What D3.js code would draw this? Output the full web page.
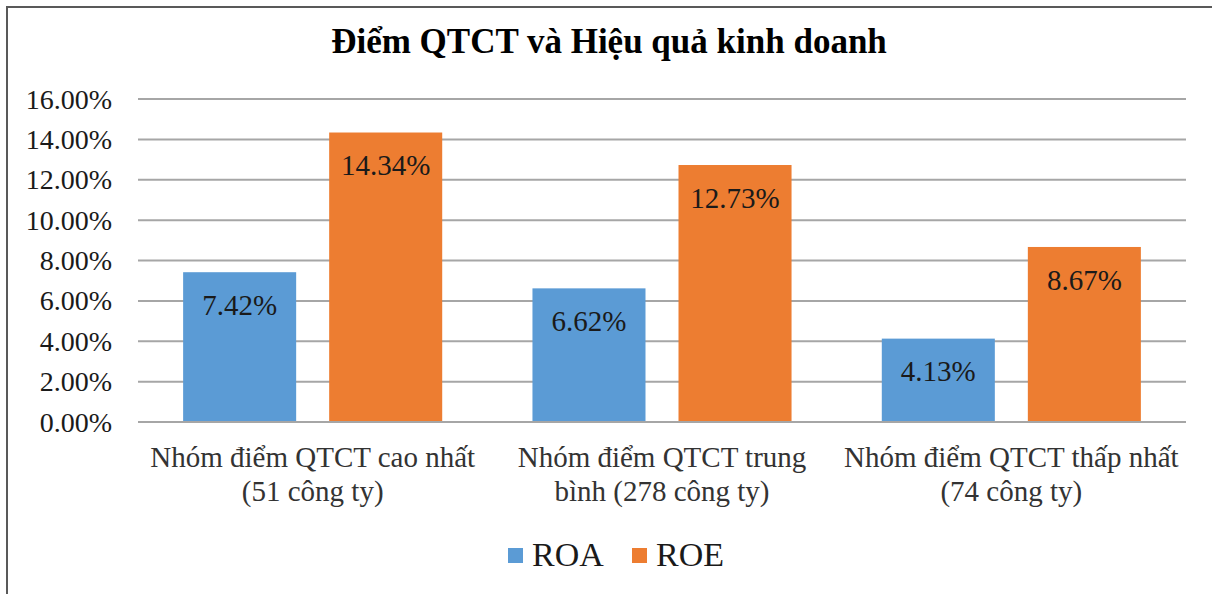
<!DOCTYPE html>
<html>
<head>
<meta charset="utf-8">
<script src="https://cdn.jsdelivr.net/npm/d3@7"></script>
<style>
  body { margin: 0; background: #fff; }
</style>
</head>
<body>
<div id="chart"></div>
<script>
// data
let categories = [
  ["Nhóm điểm QTCT cao nhất", "(51 công ty)"],
  ["Nhóm điểm QTCT trung", "bình (278 công ty)"],
  ["Nhóm điểm QTCT thấp nhất", "(74 công ty)"]
];
let seriesNames = ["ROA", "ROE"];
let roa = [7.42, 6.62, 4.13];
let roe = [14.34, 12.73, 8.67];
let yTicks = [0, 2, 4, 6, 8, 10, 12, 14, 16];
let colors = ["#5B9BD5", "#ED7D31"];

const FONT = "'Liberation Serif', 'Times New Roman', serif";

function getConfig() {
  let width = 1212;
  let height = 594;
  let margin = { top: 99, bottom: 172, left: 138, right: 26 };
  let bodyHeight = height - margin.top - margin.bottom;
  let bodyWidth = width - margin.left - margin.right;
  let container = d3.select("#chart").append("svg")
    .attr("width", width)
    .attr("height", height)
    .attr("font-family", FONT);
  return { width, height, margin, bodyHeight, bodyWidth, container };
}

function drawChart() {
  let { width, height, margin, bodyHeight, bodyWidth, container } = getConfig();

  // outer frame (only top and left edges show in the picture)
  container.append("rect")
    .attr("x", 7).attr("y", 7)
    .attr("width", width + 10).attr("height", height + 10)
    .attr("fill", "none")
    .attr("stroke", "#595959")
    .attr("stroke-width", 2);

  let table = categories.map((c, i) => ({ cat: i, values: [roa[i], roe[i]] }));

  let x0 = d3.scaleBand()
    .domain(d3.range(categories.length))
    .range([0, bodyWidth]);
  let x1 = d3.scaleBand()
    .domain(d3.range(seriesNames.length))
    .range([0, x0.bandwidth()])
    .paddingInner(0.226)
    .paddingOuter(0.309);
  let y = d3.scaleLinear()
    .domain([0, 16])
    .range([bodyHeight, 0]);

  let body = container.append("g")
    .attr("transform", "translate(" + margin.left + "," + margin.top + ")");

  // gridlines
  body.append("g")
    .selectAll("line")
    .data(yTicks)
    .enter()
    .append("line")
      .attr("x1", 0)
      .attr("x2", bodyWidth)
      .attr("y1", d => y(d))
      .attr("y2", d => y(d))
      .attr("stroke", "#A6A6A6")
      .attr("stroke-width", 2);

  // y tick labels
  body.append("g")
    .selectAll("text")
    .data(yTicks)
    .enter()
    .append("text")
      .attr("x", -26)
      .attr("y", d => y(d))
      .attr("dy", "0.34em")
      .attr("text-anchor", "end")
      .style("font-family", FONT)
      .style("font-size", "28px")
      .style("fill", "#1a1a1a")
      .text(d => d.toFixed(2) + "%");

  // bars
  let groups = body.selectAll(".group")
    .data(table)
    .enter()
    .append("g")
      .attr("class", "group")
      .attr("transform", d => "translate(" + x0(d.cat) + ",0)");

  groups.selectAll("rect")
    .data(d => d.values.map((v, k) => ({ k, v })))
    .enter()
    .append("rect")
      .attr("x", d => x1(d.k))
      .attr("width", x1.bandwidth())
      .attr("y", d => y(d.v))
      .attr("height", d => bodyHeight - y(d.v))
      .attr("fill", d => colors[d.k]);

  groups.selectAll(".val")
    .data(d => d.values.map((v, k) => ({ k, v })))
    .enter()
    .append("text")
      .attr("class", "val")
      .attr("x", d => x1(d.k) + x1.bandwidth() / 2)
      .attr("y", d => y(d.v) + 33)
      .attr("dy", "0.34em")
      .attr("text-anchor", "middle")
      .style("font-family", FONT)
      .style("font-size", "29px")
      .style("fill", "#1a1a1a")
      .text(d => d.v.toFixed(2) + "%");

  // baseline
  body.append("line")
    .attr("x1", 0).attr("x2", bodyWidth)
    .attr("y1", y(0)).attr("y2", y(0))
    .attr("stroke", "#A6A6A6")
    .attr("stroke-width", 2);

  // category labels
  let catLabels = body.append("g")
    .selectAll("text")
    .data(categories)
    .enter()
    .append("text")
      .attr("text-anchor", "middle")
      .attr("transform", (d, i) => "translate(" + (x0(i) + x0.bandwidth() / 2) + "," + (bodyHeight + 45) + ")")
      .style("font-family", FONT)
      .style("font-size", "29px")
      .style("fill", "#333");
  catLabels.selectAll("tspan")
    .data(d => d)
    .enter()
    .append("tspan")
      .attr("x", 0)
      .attr("dy", (d, j) => j === 0 ? 0 : 34)
      .text(d => d);

  // title
  container.append("text")
    .attr("x", 609)
    .attr("y", 53)
    .attr("text-anchor", "middle")
    .style("font-family", FONT)
    .style("font-size", "35px")
    .style("font-weight", "bold")
    .text("Điểm QTCT và Hiệu quả kinh doanh");

  // legend
  let legendX = [508, 632];
  let legend = container.append("g")
    .selectAll("g")
    .data(seriesNames)
    .enter()
    .append("g")
      .attr("transform", (d, i) => "translate(" + legendX[i] + ",548)");
  legend.append("rect")
    .attr("width", 15).attr("height", 15)
    .attr("fill", (d, i) => colors[i]);
  legend.append("text")
    .attr("x", 24)
    .attr("y", 18)
    .style("font-family", FONT)
    .style("font-size", "34px")
    .style("fill", "#1a1a1a")
    .text(d => d);
}

drawChart();
</script>
</body>
</html>
